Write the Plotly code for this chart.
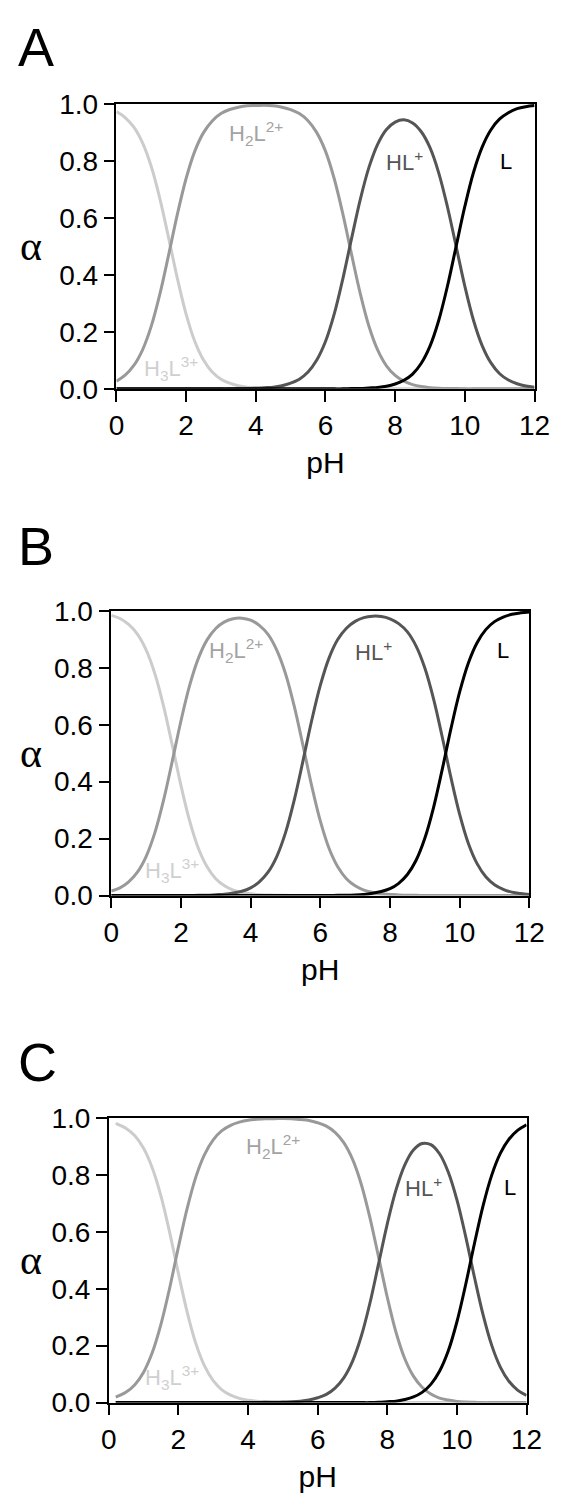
import plotly.graph_objects as go

# ---------------- data ----------------
ph_ab = [0, 0.25, 0.5, 0.75,
         1, 1.25, 1.5, 1.75,
         2, 2.25, 2.5, 2.75,
         3, 3.25, 3.5, 3.75,
         4, 4.25, 4.5, 4.75,
         5, 5.25, 5.5, 5.75,
         6, 6.25, 6.5, 6.75,
         7, 7.25, 7.5, 7.75,
         8, 8.25, 8.5, 8.75,
         9, 9.25, 9.5, 9.75,
         10, 10.25, 10.5, 10.75,
         11, 11.25, 11.5, 11.75,
         12]
ph_c = [0.2, 0.5, 0.75,
        1, 1.25, 1.5, 1.75,
        2, 2.25, 2.5, 2.75,
        3, 3.25, 3.5, 3.75,
        4, 4.25, 4.5, 4.75,
        5, 5.25, 5.5, 5.75,
        6, 6.25, 6.5, 6.75,
        7, 7.25, 7.5, 7.75,
        8, 8.25, 8.5, 8.75,
        9, 9.25, 9.5, 9.75,
        10, 10.25, 10.5, 10.75,
        11, 11.25, 11.5, 11.75,
        12]

# Panel A
a_h3l = [0.973, 0.952, 0.918, 0.863,
         0.780, 0.666, 0.529, 0.387,
         0.262, 0.166, 0.101, 0.059,
         0.034, 0.020, 0.011, 0.006,
         0.004, 0.002, 0.001, 0.001,
         0.000, 0, 0, 0,
         0, 0, 0, 0,
         0, 0, 0, 0,
         0, 0, 0, 0,
         0, 0, 0, 0,
         0, 0, 0, 0,
         0, 0, 0, 0,
         0]
a_h2l = [0.027, 0.048, 0.082, 0.137,
         0.220, 0.334, 0.471, 0.613,
         0.738, 0.834, 0.899, 0.940,
         0.966, 0.980, 0.988, 0.993,
         0.994, 0.995, 0.993, 0.988,
         0.980, 0.966, 0.941, 0.899,
         0.834, 0.738, 0.613, 0.471,
         0.334, 0.219, 0.136, 0.081,
         0.047, 0.027, 0.015, 0.008,
         0.004, 0.002, 0.001, 0.001,
         0.000, 0, 0, 0,
         0, 0, 0, 0,
         0]
a_hl = [0, 0, 0, 0,
        0, 0, 0, 0,
        0, 0, 0, 0.000,
        0.000, 0.000, 0.001, 0.001,
        0.002, 0.004, 0.006, 0.011,
        0.020, 0.034, 0.059, 0.101,
        0.166, 0.262, 0.387, 0.528,
        0.665, 0.778, 0.859, 0.910,
        0.936, 0.944, 0.933, 0.902,
        0.846, 0.758, 0.639, 0.500,
        0.360, 0.240, 0.151, 0.091,
        0.053, 0.031, 0.018, 0.010,
        0.006]
a_l = [0, 0, 0, 0,
       0, 0, 0, 0,
       0, 0, 0, 0,
       0, 0, 0, 0,
       0, 0, 0, 0,
       0, 0, 0, 0,
       0.000, 0.000, 0.000, 0.001,
       0.001, 0.003, 0.005, 0.009,
       0.017, 0.030, 0.052, 0.090,
       0.150, 0.240, 0.360, 0.500,
       0.640, 0.760, 0.849, 0.909,
       0.947, 0.969, 0.983, 0.990,
       0.994]

# Panel B
b_h3l = [0.984, 0.973, 0.952, 0.918,
         0.863, 0.780, 0.666, 0.529,
         0.387, 0.262, 0.166, 0.101,
         0.059, 0.034, 0.019, 0.011,
         0.006, 0.003, 0.002, 0.001,
         0.001, 0.000, 0, 0,
         0, 0, 0, 0,
         0, 0, 0, 0,
         0, 0, 0, 0,
         0, 0, 0, 0,
         0, 0, 0, 0,
         0, 0, 0, 0,
         0]
b_h2l = [0.016, 0.027, 0.048, 0.082,
         0.137, 0.220, 0.334, 0.471,
         0.613, 0.738, 0.833, 0.898,
         0.938, 0.961, 0.972, 0.974,
         0.967, 0.949, 0.917, 0.862,
         0.780, 0.666, 0.529, 0.387,
         0.262, 0.166, 0.101, 0.059,
         0.034, 0.019, 0.011, 0.006,
         0.004, 0.002, 0.001, 0.001,
         0.000, 0, 0, 0,
         0, 0, 0, 0,
         0, 0, 0, 0,
         0]
b_hl = [0, 0, 0, 0,
        0, 0, 0, 0,
        0.000, 0.000, 0.001, 0.001,
        0.003, 0.005, 0.009, 0.015,
        0.027, 0.048, 0.082, 0.137,
        0.220, 0.334, 0.471, 0.613,
        0.738, 0.834, 0.899, 0.939,
        0.963, 0.976, 0.981, 0.980,
        0.972, 0.955, 0.926, 0.876,
        0.799, 0.691, 0.557, 0.414,
        0.285, 0.183, 0.112, 0.066,
        0.038, 0.022, 0.012, 0.007,
        0.004]
b_l = [0, 0, 0, 0,
       0, 0, 0, 0,
       0, 0, 0, 0,
       0, 0, 0, 0,
       0, 0, 0, 0,
       0, 0, 0, 0,
       0.000, 0.000, 0.001, 0.001,
       0.002, 0.004, 0.008, 0.014,
       0.024, 0.043, 0.074, 0.124,
       0.201, 0.309, 0.443, 0.586,
       0.715, 0.817, 0.888, 0.934,
       0.962, 0.978, 0.988, 0.993,
       0.996]

# Panel C
c_h3l = [0.981, 0.963, 0.937,
         0.893, 0.824, 0.725, 0.597,
         0.454, 0.319, 0.208, 0.129,
         0.077, 0.045, 0.026, 0.015,
         0.008, 0.005, 0.003, 0.001,
         0.001, 0.000, 0, 0,
         0, 0, 0, 0,
         0, 0, 0, 0,
         0, 0, 0, 0,
         0, 0, 0, 0,
         0, 0, 0, 0,
         0, 0, 0, 0,
         0]
c_h2l = [0.019, 0.037, 0.063,
         0.107, 0.176, 0.276, 0.403,
         0.546, 0.681, 0.792, 0.871,
         0.923, 0.955, 0.974, 0.985,
         0.992, 0.995, 0.997, 0.997,
         0.998, 0.997, 0.994, 0.991,
         0.983, 0.971, 0.949, 0.913,
         0.855, 0.768, 0.650, 0.511,
         0.370, 0.247, 0.155, 0.093,
         0.054, 0.030, 0.016, 0.009,
         0.004, 0.002, 0.001, 0.000,
         0, 0, 0, 0,
         0]
c_hl = [0, 0, 0,
        0, 0, 0, 0,
        0, 0, 0, 0,
        0, 0, 0, 0,
        0.000, 0.000, 0.001, 0.001,
        0.002, 0.003, 0.005, 0.009,
        0.017, 0.029, 0.051, 0.087,
        0.145, 0.232, 0.349, 0.488,
        0.628, 0.747, 0.834, 0.887,
        0.910, 0.906, 0.874, 0.810,
        0.712, 0.584, 0.442, 0.309,
        0.201, 0.124, 0.074, 0.043,
        0.025]
c_l = [0, 0, 0,
       0, 0, 0, 0,
       0, 0, 0, 0,
       0, 0, 0, 0,
       0, 0, 0, 0,
       0, 0, 0, 0,
       0, 0, 0, 0,
       0.000, 0.000, 0.000, 0.001,
       0.003, 0.005, 0.011, 0.020,
       0.036, 0.064, 0.110, 0.181,
       0.284, 0.414, 0.557, 0.691,
       0.799, 0.876, 0.926, 0.957,
       0.976]

species = ["H<sub>3</sub>L<sup>3+</sup>", "H<sub>2</sub>L<sup>2+</sup>", "HL<sup>+</sup>", "L"]
panel_letters = ["A", "B", "C"]
x_ticks = [0, 2, 4, 6, 8, 10, 12]
y_ticks = [0, 0.2, 0.4, 0.6, 0.8, 1.0]

# label positions (pH, alpha) per panel, order matches species
label_pos = [
    [(0.73, 0.073), (3.16, 0.897), (7.69, 0.799), (10.95, 0.799)],
    [(0.91, 0.088), (2.76, 0.862), (6.93, 0.858), (11.0, 0.862)],
    [(0.98, 0.087), (3.87, 0.898), (8.44, 0.757), (11.29, 0.757)],
]

# ---------------- styling ----------------
W, H = 569, 1510
line_colors = ["#cccccc", "#999999", "#555555", "#000000"]
label_colors = ["#cfcfcf", "#a3a3a3", "#555555", "#000000"]
FONT = "Liberation Sans, Arial, sans-serif"

# plot areas in pixels: (left, right, top, bottom)
areas = [(113.2, 549.7, 90.7, 381.7),
         (107.8, 544.3, 608.3, 899.0),
         (105.2, 541.4, 1126.0, 1416.7)]
letter_y = [32.5, 542.0, 1068.5]

panels = [
    (ph_ab, [a_h3l, a_h2l, a_hl, a_l]),
    (ph_ab, [b_h3l, b_h2l, b_hl, b_l]),
    (ph_c, [c_h3l, c_h2l, c_hl, c_l]),
]

fig = go.Figure()
annotations = []
layout_axes = {}

for i, (ph, series) in enumerate(panels):
    n = "" if i == 0 else str(i + 1)
    xa, ya = "x" + n, "y" + n
    for s, ys, col in zip(species, series, line_colors):
        fig.add_trace(go.Scatter(
            x=ph, y=ys, mode="lines", name=s, showlegend=False,
            line=dict(color=col, width=3, shape="spline", smoothing=1.0),
            xaxis=xa, yaxis=ya, hoverinfo="skip"))
    l, r, t, b = areas[i]
    common = dict(showline=True, linecolor="black", linewidth=1.5, mirror=True,
                  ticks="outside", ticklen=11, tickwidth=1.8, tickcolor="black",
                  showgrid=False, zeroline=False,
                  tickfont=dict(family=FONT, size=28, color="black"))
    layout_axes["xaxis" + n] = dict(
        domain=[l / W, r / W], range=[0, 12], tickvals=x_ticks,
        anchor=ya,
        title=dict(text="pH", font=dict(family=FONT, size=30, color="black"), standoff=12),
        **common)
    layout_axes["yaxis" + n] = dict(
        domain=[1 - b / H, 1 - t / H], range=[0, 1], tickvals=y_ticks,
        tickformat=".1f", anchor=xa, **common)
    # alpha label
    annotations.append(dict(
        text="α", xref="paper", yref=ya + " domain", x=24 / W, y=0.5,
        xanchor="center", yanchor="middle", showarrow=False,
        font=dict(family="Liberation Serif, Times New Roman, serif", size=42, color="black")))
    # panel letter
    annotations.append(dict(
        text=panel_letters[i], xref="paper", yref="paper", x=8 / W, y=1 - letter_y[i] / H,
        xanchor="left", yanchor="middle", showarrow=False,
        font=dict(family=FONT, size=54, color="black")))
    # species labels
    for s, (px, py), col in zip(species, label_pos[i], label_colors):
        annotations.append(dict(
            text=s, xref=xa, yref=ya, x=px, y=py, xanchor="left", yanchor="middle",
            showarrow=False, font=dict(family=FONT, size=22, color=col)))

fig.update_layout(
    width=W, height=H, margin=dict(l=0, r=0, t=0, b=0),
    paper_bgcolor="white", plot_bgcolor="white",
    annotations=annotations, **layout_axes)

fig.write_html("out.html")
